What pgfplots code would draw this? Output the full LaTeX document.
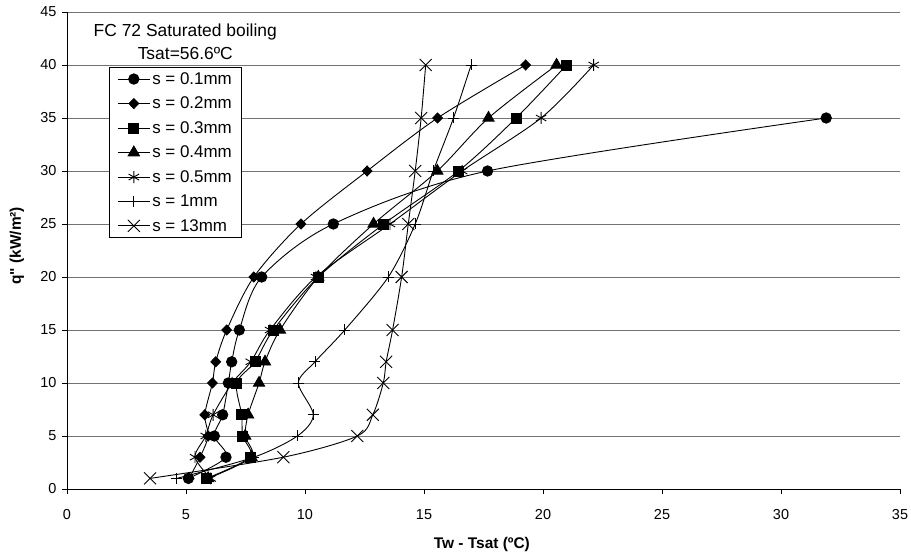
\documentclass[border=0pt]{standalone}
\usepackage{fontspec}
\setmainfont{Liberation Sans}[Ligatures=TeXOff]
\usepackage{pgfplots}
\pgfplotsset{compat=1.18}
\begin{document}
\begin{tikzpicture}
\useasboundingbox (-67bp,-70bp) rectangle (844bp,489bp);
\begin{axis}[
  at={(0,0)}, anchor=south west,
  scale only axis, width=833bp, height=477bp,
  xmin=0, xmax=35, ymin=0, ymax=45,
  xtick={0,5,...,35}, ytick={0,5,...,45},
  axis lines=left, axis line style={-, black, line width=0.8bp},
  tick align=outside, major tick length=5bp, tick style={black, line width=0.8bp},
  ymajorgrids, grid style={black!55, line width=0.8bp},
  /pgf/number format/assume math mode=true,
  tick label style={font=\fontsize{14.5}{16}\selectfont},
  xticklabel style={yshift=-12bp},
  yticklabel style={xshift=-2bp},
  xlabel={Tw - Tsat (ºC)}, ylabel={q" (kW/m²)},
  label style={font=\bfseries\fontsize{15.5}{18}\selectfont},
  xlabel style={at={(axis description cs:0.498,0)}, anchor=center, yshift=-56bp},
  ylabel style={at={(axis description cs:0,0.51)}, anchor=center, yshift=50bp},
  every axis plot/.append style={black, line width=0.9bp, smooth},
  legend style={at={(rel axis cs:0.0504,0.8847)}, anchor=north west, draw=black, line width=0.8bp,
    fill=white, font=\fontsize{17}{20}\selectfont, row sep=7.2bp, inner xsep=8bp, inner ysep=3bp},
  legend cell align=left,
  legend image code/.code={\draw[mark repeat=2,mark phase=2] plot coordinates {(0bp,0bp) (16bp,0bp) (32bp,0bp)};},
]
\addplot[mark=*, mark size=5.2bp] coordinates {(5.10,1)(6.68,3)(6.19,5)(6.54,7)(6.78,10)(6.92,12)(7.24,15)(8.18,20)(11.19,25)(17.67,30)(31.9,35)};
\addlegendentry{s = 0.1mm}
\addplot[mark=diamond*, mark size=5bp, mark options={xscale=1.3}] coordinates {(5.13,1)(5.59,3)(5.93,5)(5.79,7)(6.11,10)(6.25,12)(6.71,15)(7.85,20)(9.83,25)(12.61,30)(15.57,35)(19.27,40)};
\addlegendentry{s = 0.2mm}
\addplot[mark=square*, mark size=5bp] coordinates {(5.86,1)(7.69,3)(7.38,5)(7.34,7)(7.13,10)(7.9,12)(8.67,15)(10.56,20)(13.31,25)(16.45,30)(18.87,35)(20.99,40)};
\addlegendentry{s = 0.3mm}
\addplot[mark=triangle*, mark size=6.5bp] coordinates {(5.93,1)(7.75,3)(7.49,5)(7.61,7)(8.07,10)(8.32,12)(8.95,15)(10.56,20)(12.88,25)(15.56,30)(17.71,35)(20.57,40)};
\addlegendentry{s = 0.4mm}
\addplot[mark=asterisk, mark size=6bp] coordinates {(6.04,1)(5.38,3)(5.83,5)(6.14,7)(6.94,10)(7.72,12)(8.53,15)(10.46,20)(13.57,25)(16.6,30)(19.92,35)(22.13,40)};
\addlegendentry{s = 0.5mm}
\addplot[mark=+, mark size=5.5bp] coordinates {(4.61,1)(7.85,3)(9.68,5)(10.35,7)(9.72,10)(10.42,12)(11.67,15)(13.5,20)(14.63,25)(15.39,30)(16.24,35)(16.98,40)};
\addlegendentry{s = 1mm}
\addplot[mark=x, mark size=8.5bp] coordinates {(3.49,1)(9.09,3)(12.2,5)(12.85,7)(13.29,10)(13.41,12)(13.68,15)(14.06,20)(14.34,25)(14.63,30)(14.88,35)(15.07,40)};
\addlegendentry{s = 13mm}
\node[align=center, font=\fontsize{17.5}{22.5}\selectfont] at (rel axis cs:0.142,0.938) {FC 72 Saturated boiling\\Tsat=56.6ºC};
\end{axis}
\end{tikzpicture}
\end{document}
